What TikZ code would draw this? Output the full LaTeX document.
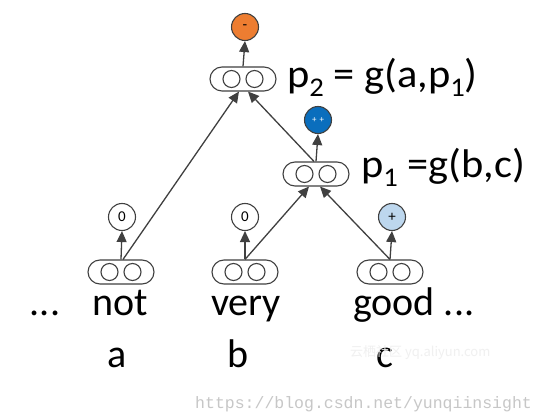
\documentclass[tikz,border=0pt]{standalone}
\usepackage{fontspec}
\setmainfont{Carlito}
\newfontfamily\cjkfont{Noto Sans CJK SC}
\newfontfamily\wmfont{Liberation Mono}
\usetikzlibrary{arrows.meta}
\definecolor{edgegray}{HTML}{404040}
\definecolor{orangeN}{HTML}{ED7D31}
\definecolor{blueN}{HTML}{0A6EBD}
\definecolor{lightblueN}{HTML}{BDD7EE}
\newcommand\lowsub[1]{\raisebox{-0.22em}{\fontsize{27}{27}\selectfont #1}}
\tikzset{
  pairbox/.style={draw=edgegray, line width=1.1pt, minimum width=66pt, minimum height=24pt,
    rounded corners=12pt, inner sep=0pt,
    path picture={
      \draw[edgegray, line width=1.1pt] ([xshift=-11.5pt]path picture bounding box.center) circle (8.5pt);
      \draw[edgegray, line width=1.1pt] ([xshift=11.5pt]path picture bounding box.center) circle (8.5pt);
    }},
  outc/.style={circle, draw=edgegray, line width=1.1pt, minimum size=27pt, inner sep=0pt, font=\fontsize{15}{15}\selectfont},
  arr/.style={draw=edgegray, line width=1.3pt, -{Triangle[length=11pt,width=10pt]}},
  word/.style={inner sep=0pt, font=\fontsize{40}{40}\selectfont, anchor=base},
  lbl/.style={inner sep=0pt, font=\fontsize{40}{40}\selectfont, anchor=base west, xscale=1.06},
}
\begin{document}
\begin{tikzpicture}[x=1pt,y=-1pt]
\useasboundingbox[fill=white] (0,0) rectangle (546,419);
% pair boxes
\node[pairbox] (T) at (243,79) {};
\node[pairbox] (P) at (316,174) {};
\node[pairbox] (A) at (121,272) {};
\node[pairbox] (B) at (245,272) {};
\node[pairbox] (C) at (390,272) {};
% output circles
\node[outc, fill=orangeN] (oT) at (245,27) {-};
\node[outc, fill=blueN, text=white, font=\fontsize{9}{9}\selectfont] (oP) at (318,120) {+\,\,+};
\node[outc, fill=white] (oA) at (122,217) {0};
\node[outc, fill=white] (oB) at (245,217) {0};
\node[outc, fill=lightblueN] (oC) at (392,217) {+};
% arrows
\draw[arr] (T.north) -- (oT.south);
\draw[arr] (P.north) -- (oP.south);
\draw[arr] (A.north) -- (oA.south);
\draw[arr] (B.north) -- (oB.south);
\draw[arr] (C.north) -- (oC.south);
\draw[arr] ([xshift=2pt]A.north) -- ([xshift=-4pt]T.south);
\draw[arr] ([xshift=-2pt]P.north) -- ([xshift=5pt]T.south);
\draw[arr] (B.north) -- ([xshift=-7pt]P.south);
\draw[arr] (C.north) -- ([xshift=4pt]P.south);
% labels
\node[lbl] (lT) at (287,88) {p\lowsub{2} = g(a,p\lowsub{1})};
\node[lbl] (lP) at (361,178) {p\lowsub{1} =g(b,c)};
% words
\node[word] (w0) at (45,316) {...};
\node[word] (w1) at (120,316) {not};
\node[word] (w2) at (246,316) {very};
\node[word, anchor=base west] (w3) at (353,316) {good ...};
\node[word] (va) at (117,367) {a};
\node[word] (vb) at (238,367) {b};
\node[word] (vc) at (385,367) {c};
% watermarks
\node[inner sep=0pt, anchor=base west, text=black!6, font=\fontsize{13}{13}\cjkfont] (wm1) at (350,356) {云栖社区 yq.aliyun.com};
\node[inner sep=0pt, anchor=base west, text=black!22, font=\fontsize{16.5}{16.5}\wmfont] (wm2) at (195,408) {https://blog.csdn.net/yunqiinsight};
\end{tikzpicture}
\end{document}
